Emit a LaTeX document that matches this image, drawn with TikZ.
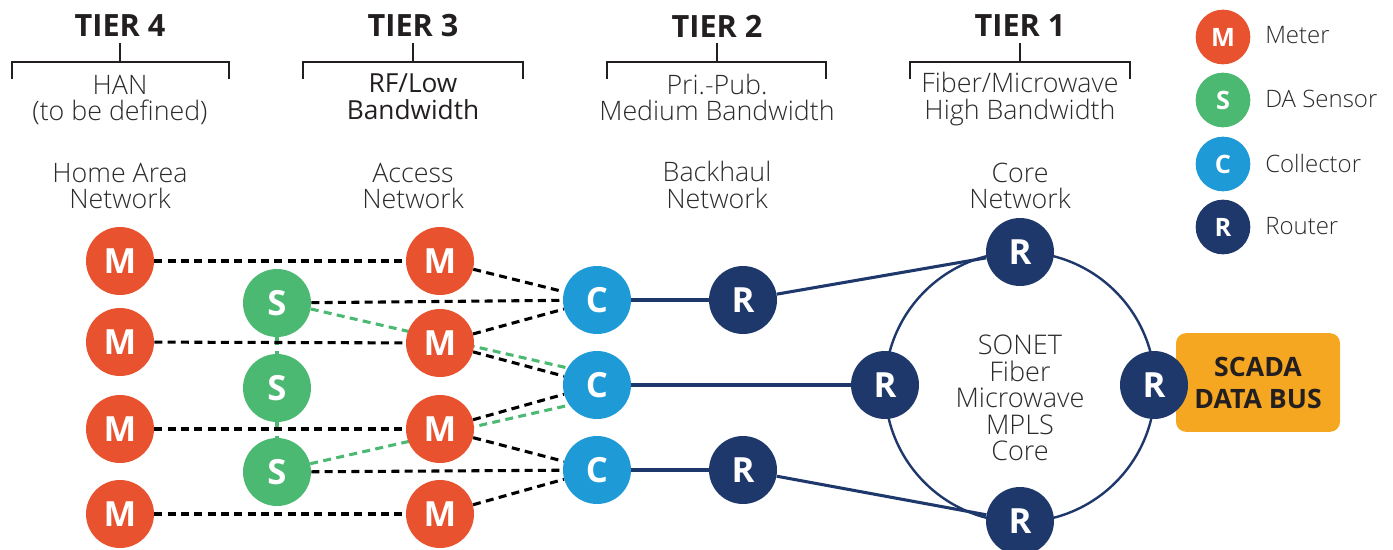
\documentclass[tikz,border=0pt]{standalone}
\usepackage{fontspec}
\setmainfont{Open Sans}
\newfontfamily\thinfont{Open Sans Light}
\usetikzlibrary{backgrounds}

\definecolor{cMeter}{HTML}{E9522F}
\definecolor{cSensor}{HTML}{4CB973}
\definecolor{cCollector}{HTML}{1E9BD7}
\definecolor{cRouter}{HTML}{1F386B}
\definecolor{cScada}{HTML}{F5A721}
\definecolor{cInk}{HTML}{231F20}
\definecolor{cText}{HTML}{2B2B2B}

\begin{document}
\begin{tikzpicture}[x=0.75pt,y=-0.75pt,
  dev/.style={circle, minimum size=51pt, inner sep=0pt, text=white,
    font=\fontsize{26}{26}\selectfont\bfseries},
  meterdev/.style={dev, fill=cMeter},
  sensordev/.style={dev, fill=cSensor},
  collectordev/.style={dev, fill=cCollector},
  routerdev/.style={dev, fill=cRouter},
  keydev/.style={circle, minimum size=41pt, inner sep=0pt, text=white,
    font=\fontsize{19}{19}\selectfont\bfseries},
  keylabel/.style={anchor=west, inner sep=0pt, text=cText,
    font=\thinfont\fontsize{18}{18}\selectfont},
  tierhead/.style={text=cInk, inner sep=0pt, font=\fontsize{23}{23}\selectfont\bfseries},
  label/.style={align=center, inner sep=0pt, text=cText,
    font=\thinfont\fontsize{20.1}{20}\selectfont},
  bracket/.style={cInk, line width=2.2pt},
  rflink/.style={black, line width=2.3pt, dash pattern=on 6pt off 4pt},
  dalink/.style={cSensor, line width=2.3pt, dash pattern=on 6pt off 4pt},
  wan/.style={cRouter, line width=2.3pt},
]
\useasboundingbox (0,0) rectangle (1393,550);

% ---- tier headings and brackets ----
\foreach \x/\t/\l/\r [count=\i] in {120/TIER 4/12/229, 413/TIER 3/303/523, 717/TIER 2/607/826, 1020/TIER 1/910/1130}{
  \node[tierhead] (tier\i) at (\x,26) {\t};
  \draw[bracket] (\l,79) -- (\l,62) -- (\r,62) -- (\r,79);
  \draw[bracket] (\x,62) -- (\x,43);
}
\node[label] (bw4) at (120,100) {HAN\\(to be defined)};
\node[label, font=\fontsize{19.7}{20}\selectfont, text=cInk] (bw3) at (413,97) {RF/Low\\Bandwidth};
\node[label] (bw2) at (717,97.5) {Pri.-Pub.\\Medium Bandwidth};
\node[label] (bw1) at (1020,99) {Fiber/Microwave\\High Bandwidth};

\node[label] (net4) at (120,186) {Home Area\\Network};
\node[label] (net3) at (413,186) {Access\\Network};
\node[label] (net2) at (717,185) {Backhaul\\Network};
\node[label] (net1) at (1020,186) {Core\\Network};

% ---- legend ----
\node[keydev, fill=cMeter] (kM) at (1223,37) {M};
\node[keydev, fill=cSensor] (kS) at (1223,100) {S};
\node[keydev, fill=cCollector] (kC) at (1223,164) {C};
\node[keydev, fill=cRouter] (kR) at (1223,227) {R};
\node[keylabel] (kMl) at (1265,35) {Meter};
\node[keylabel] (kSl) at (1265,99) {DA Sensor};
\node[keylabel] (kCl) at (1265,163) {Collector};
\node[keylabel] (kRl) at (1265,226) {Router};

% ---- home area meters ----
\node[meterdev] (ha1) at (120,261) {M};
\node[meterdev] (ha2) at (120,342) {M};
\node[meterdev] (ha3) at (120,429) {M};
\node[meterdev] (ha4) at (120,514) {M};

% ---- DA sensors ----
\node[sensordev] (s1) at (277,303) {S};
\node[sensordev] (s2) at (277,388) {S};
\node[sensordev] (s3) at (277,472) {S};

% ---- access meters ----
\node[meterdev] (am1) at (440,261) {M};
\node[meterdev] (am2) at (440,343) {M};
\node[meterdev] (am3) at (440,429) {M};
\node[meterdev] (am4) at (440,514) {M};

% ---- collectors ----
\node[collectordev] (c1) at (597,300) {C};
\node[collectordev] (c2) at (597,385) {C};
\node[collectordev] (c3) at (597,470) {C};

% ---- backhaul routers ----
\node[routerdev] (b1) at (743,300) {R};
\node[routerdev] (b2) at (743,470) {R};

% ---- core ring ----
\node[circle, draw=cRouter, line width=1.8pt, minimum size=202.5pt, inner sep=0pt] (ring) at (1020,387) {};
\node[label, font=\thinfont\fontsize{20.3}{19.9}\selectfont] (ringtxt) at (1020,398) {SONET\\Fiber\\Microwave\\MPLS\\Core};

\node[fill=cScada, rounded corners=7.5pt, minimum width=123pt, minimum height=74pt, inner sep=0pt,
  align=center, text=cInk, font=\fontsize{20}{24}\selectfont\bfseries] (scada) at (1258,382.5) {SCADA\\DATA BUS};

\node[routerdev] (rt) at (1020,252) {R};
\node[routerdev] (rl) at (885,385) {R};
\node[routerdev] (rr) at (1154,385) {R};
\node[routerdev] (rb) at (1020,521) {R};

% ---- links ----
\begin{scope}[on background layer]
  \draw[dalink] (s1) -- (s2);
  \draw[dalink] (s2) -- (s3);
  \draw[dalink] (s1.-10) -- (c2.150);
  \draw[dalink] (s3.14) -- (c2.216);

  \draw[rflink] (ha1) -- (am1);
  \draw[rflink] (ha2) -- (am2);
  \draw[rflink] (ha3) -- (am3);
  \draw[rflink] (ha4) -- (am4);
  \draw[rflink] (s1) -- (c1);
  \draw[rflink] (s3) -- (c3);
  \draw[rflink] (am1) -- (c1);
  \draw[rflink] (am2) -- (c1);
  \draw[rflink] (am2) -- (c2);
  \draw[rflink] (am3) -- (c2);
  \draw[rflink] (am3) -- (c3);
  \draw[rflink] (am4) -- (c3);

  \draw[wan] (c1) -- (b1);
  \draw[wan] (c3) -- (b2);
  \draw[wan] (c2) -- (rl);
  \draw[wan] (b1) -- (rt);
  \draw[wan] (b2) -- (rb);
\end{scope}
\end{tikzpicture}
\end{document}
